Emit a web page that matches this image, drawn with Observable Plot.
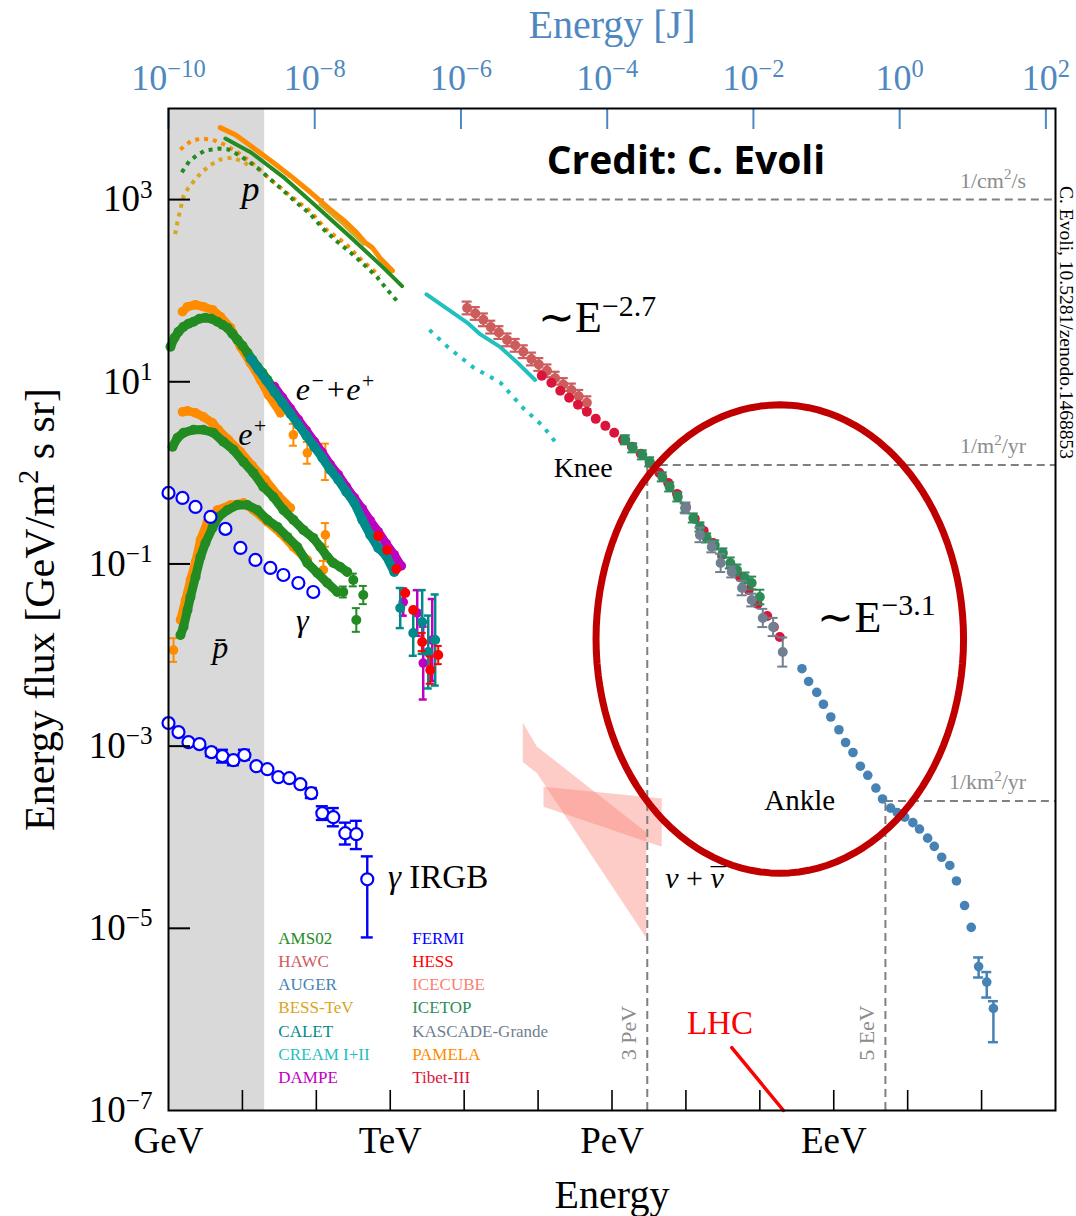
<!DOCTYPE html>
<html><head><meta charset="utf-8">
<script src="https://cdn.jsdelivr.net/npm/d3@7"></script>
<script src="https://cdn.jsdelivr.net/npm/@observablehq/plot@0.6"></script>
<style>body{margin:0;background:#fff}svg{display:block}</style>
</head><body><div id="chart"></div>
<script>
// All series values are [log10(E / GeV), log10(energy flux / (GeV m^-2 s^-1 sr^-1))]
// error series: [logE, logF, err] (symmetric) or [logE, logF, logLow, logHigh]

// ---- protons ----
const pPamelaLine = [[0.70,3.79],[0.91,3.71],[1.11,3.59],[1.38,3.43],[1.65,3.26],[1.92,3.08],[2.19,2.89],[2.39,2.76],[2.53,2.65],[2.66,2.53],[2.76,2.47],[2.86,2.36],[3.03,2.22]];
const pAms02Line = [[0.77,3.67],[0.93,3.60],[1.11,3.52],[1.55,3.25],[2.01,2.92],[2.46,2.59],[2.91,2.25],[3.16,2.05]];
const pBessLine = [[2.05,2.95],[2.36,2.73],[2.64,2.51]];
const pAms02Dotted = [[0.18,3.30],[0.28,3.42],[0.39,3.49],[0.50,3.54],[0.68,3.56],[0.81,3.55],[0.95,3.49],[1.08,3.42],[1.20,3.35],[1.34,3.25],[1.51,3.13],[1.74,2.96],[1.92,2.84],[2.09,2.68],[2.28,2.54],[2.46,2.42],[2.64,2.29],[2.82,2.15],[2.97,2.00],[3.11,1.87]];
const pPamelaDotted = [[0.16,3.55],[0.30,3.64],[0.43,3.67],[0.59,3.66],[0.77,3.60],[0.97,3.50],[1.18,3.37],[1.38,3.22],[1.65,3.04],[1.92,2.87],[2.15,2.66],[2.39,2.52],[2.62,2.33],[2.86,2.16]];
const pBessDotted = [[0.09,2.62],[0.12,2.75],[0.16,2.89],[0.20,3.03],[0.27,3.13],[0.36,3.22],[0.46,3.31],[0.57,3.38],[0.70,3.44],[0.86,3.46],[1.00,3.42],[1.12,3.36]];
const creamLine = [[3.49,1.96],[4.04,1.65],[4.22,1.52],[4.49,1.38],[4.72,1.21],[4.96,1.02]];
const creamDotted = [[3.53,1.57],[3.78,1.38],[4.12,1.16],[4.49,0.99],[4.80,0.71],[5.07,0.51],[5.26,0.31]];

// ---- all-particle ----
const hawc = [[4.04,1.81,0.07],[4.15,1.75,0.07],[4.26,1.68,0.07],[4.36,1.60,0.07],[4.47,1.54,0.07],[4.58,1.46,0.07],[4.69,1.40,0.07],[4.80,1.33,0.07],[4.91,1.25,0.07],[5.01,1.19,0.07],[5.12,1.12,0.07],[5.23,1.04,0.07],[5.34,0.97,0.07],[5.45,0.91,0.07],[5.55,0.84,0.07],[5.66,0.77,0.07]];
const tibet = [[5.05,1.066],[5.18,0.989],[5.30,0.901],[5.42,0.824],[5.54,0.747],[5.66,0.670],[5.78,0.593],[5.91,0.516],[6.03,0.440],[6.15,0.363],[6.27,0.286],[6.39,0.209],[6.51,0.110],[6.64,0.0],[6.76,-0.110],[6.88,-0.231],[7.00,-0.374],[7.12,-0.505],[7.24,-0.637],[7.37,-0.769],[7.49,-0.901],[7.61,-1.022],[7.73,-1.143],[7.85,-1.286],[7.97,-1.440],[8.10,-1.571],[8.19,-1.692],[8.27,-1.802]];
const icetop = [[6.18,0.363,0.05],[6.28,0.275,0.05],[6.41,0.198,0.05],[6.51,0.121,0.05],[6.68,-0.044,0.05],[6.78,-0.154,0.05],[6.89,-0.264,0.05],[6.99,-0.385,0.05],[7.10,-0.495,0.05],[7.19,-0.593,0.05],[7.28,-0.714,0.05],[7.39,-0.791,0.05],[7.50,-0.879,0.05],[7.60,-0.989,0.06],[7.69,-1.066,0.06],[7.80,-1.154,0.06],[7.89,-1.209,0.07],[8.00,-1.363,0.08]];
const kascade = [[7.00,-0.385,0.06],[7.19,-0.681,0.08],[7.35,-0.813,0.06],[7.47,-0.989,0.1],[7.62,-1.088,0.06],[7.76,-1.264,0.08],[7.89,-1.396,0.07],[8.04,-1.593,0.1],[8.18,-1.692,0.1],[8.31,-1.967,0.16]];
const auger = [[8.57,-2.15],[8.66,-2.29],[8.77,-2.41],[8.86,-2.54],[8.96,-2.68],[9.07,-2.82],[9.16,-2.96],[9.26,-3.07],[9.36,-3.22],[9.46,-3.32],[9.57,-3.46],[9.66,-3.58],[9.77,-3.68],[9.86,-3.73],[9.96,-3.78],[10.07,-3.84],[10.16,-3.91],[10.27,-4.01],[10.36,-4.10],[10.46,-4.22],[10.57,-4.31],[10.66,-4.48],[10.77,-4.75],[10.86,-4.99]];
const augerErr = [[10.96,-5.42,-5.54,-5.32],[11.07,-5.59,-5.76,-5.48],[11.16,-5.88,-6.25,-5.80]];

// ---- electrons + positrons ----
const eeAms02 = [[0.027,1.385],[0.081,1.484],[0.135,1.549],[0.203,1.604],[0.270,1.637],[0.338,1.659],[0.419,1.692],[0.500,1.703],[0.581,1.692],[0.662,1.659],[0.730,1.626],[0.797,1.593],[0.865,1.527],[0.932,1.462],[1.0,1.396],[1.068,1.319],[1.135,1.242],[1.203,1.165],[1.270,1.099],[1.338,1.022],[1.405,0.945],[1.473,0.868],[1.541,0.791],[1.608,0.714],[1.676,0.637],[1.743,0.560],[1.811,0.484],[1.878,0.407],[1.946,0.330],[2.014,0.253],[2.081,0.187],[2.149,0.110],[2.216,0.033],[2.284,-0.044],[2.351,-0.110],[2.419,-0.187]];
const eePamela = [[0.189,1.769],[0.257,1.824],[0.365,1.846],[0.473,1.824],[0.595,1.791],[0.703,1.714],[0.838,1.593],[0.973,1.385],[1.108,1.209],[1.243,1.022],[1.351,0.857],[1.514,0.659]];
const eePamelaErr = [[1.689,0.418,0.12],[1.878,0.220,0.12],[2.122,0.121,0.2]];
const eeCalet = [[1.108,1.255],[1.216,1.134],[1.324,1.013],[1.432,0.892],[1.541,0.771],[1.649,0.650],[1.757,0.529],[1.865,0.409],[1.973,0.288],[2.081,0.167],[2.189,0.035],[2.297,-0.075],[2.405,-0.207],[2.514,-0.328],[2.622,-0.516],[2.730,-0.681],[2.838,-0.824],[2.946,-0.912],[3.054,-1.088]];
const eeCaletErr = [[3.135,-1.484,0.22],[3.311,-1.758,0.25],[3.432,-1.637,0.35],[3.514,-1.967,0.4],[3.608,-1.835,0.5]];
const eeDampe = [[1.432,0.947],[1.541,0.826],[1.649,0.705],[1.757,0.584],[1.865,0.464],[1.973,0.343],[2.081,0.222],[2.189,0.090],[2.297,-0.020],[2.405,-0.152],[2.514,-0.273],[2.622,-0.394],[2.730,-0.525],[2.838,-0.646],[2.946,-0.778],[3.054,-0.899],[3.149,-1.022]];
const eeDampeErr = [[3.176,-1.418,0.15],[3.365,-1.538,0.25],[3.446,-2.088,0.4],[3.568,-1.835,0.45]];
const eeHess = [[2.838,-0.692],[2.959,-0.846],[3.081,-1.055],[3.203,-1.319],[3.311,-1.505]];
const eeHessErr = [[3.432,-1.857,0.1],[3.541,-2.165,0.15],[3.649,-2.0,0.1]];

// ---- positrons ----
const posAms02 = [[0.054,0.286],[0.122,0.385],[0.203,0.440],[0.338,0.473],[0.473,0.473],[0.608,0.440],[0.743,0.341],[0.878,0.253],[1.014,0.121],[1.149,0.0],[1.284,-0.154],[1.419,-0.264],[1.554,-0.407],[1.689,-0.516],[1.824,-0.626],[1.959,-0.714],[2.054,-0.813],[2.149,-0.923],[2.230,-0.989],[2.324,-1.033],[2.419,-1.088]];
const posAms02Err = [[2.5,-1.176,0.07],[2.635,-1.341,0.1]];
const posPamela = [[0.189,0.670],[0.257,0.681],[0.365,0.659],[0.473,0.615],[0.595,0.549],[0.676,0.473],[0.811,0.363],[0.973,0.231],[1.135,0.077],[1.311,-0.077],[1.486,-0.253],[1.649,-0.385]];
const posPamelaErr = [[2.122,-0.681,0.13]];

// ---- antiprotons ----
const pbarAms02 = [[0.162,-1.780],[0.203,-1.692],[0.257,-1.505],[0.297,-1.363],[0.365,-1.143],[0.432,-0.923],[0.5,-0.769],[0.595,-0.604],[0.676,-0.484],[0.797,-0.407],[0.932,-0.352],[1.068,-0.352],[1.203,-0.407],[1.338,-0.516],[1.473,-0.593],[1.608,-0.703],[1.743,-0.813],[1.878,-0.989],[2.014,-1.099],[2.149,-1.209],[2.284,-1.308]];
const pbarAms02Err = [[2.365,-1.308,0.06],[2.541,-1.615,0.13]];
const pbarPamela = [[0.162,-1.615],[0.230,-1.396],[0.297,-1.176],[0.365,-0.978],[0.432,-0.736],[0.527,-0.538],[0.662,-0.407],[0.838,-0.352],[1.014,-0.330],[1.149,-0.407],[1.338,-0.538],[1.514,-0.659],[1.689,-0.813],[1.878,-0.956]];
const pbarPamelaErr = [[0.068,-1.945,0.13],[2.095,-1.066,0.1]];

// ---- gamma rays ----
const gammaDiffuse = [[0.0,-0.220],[0.189,-0.275],[0.365,-0.374],[0.568,-0.484],[0.770,-0.615],[0.973,-0.824],[1.176,-0.956],[1.378,-1.044],[1.554,-1.121],[1.757,-1.209],[1.959,-1.308]];
const gammaIRGB = [[0.0,-2.747],[0.135,-2.846],[0.270,-2.956],[0.419,-2.978],[1.189,-3.220],[1.338,-3.253],[1.486,-3.341],[1.635,-3.352],[1.784,-3.418]];
const gammaIRGBErr = [[0.581,-3.066,-3.11,-3.02],[0.730,-3.110,-3.18,-3.04],[0.878,-3.154,-3.21,-3.10],[1.027,-3.099,-3.15,-3.04],[1.932,-3.516,-3.57,-3.46],[2.081,-3.736,-3.81,-3.66],[2.230,-3.780,-3.88,-3.68],[2.392,-3.956,-4.08,-3.84],[2.541,-3.967,-4.13,-3.82],[2.689,-4.462,-5.10,-4.21]];

// ---- neutrinos (IceCube bands): [logE, logLow, logHigh] ----
const nuBandSteep = [[4.80,-3.18,-2.75],[4.99,-3.30,-3.01],[6.47,-5.11,-3.95]];
const nuBandFlat = [[5.08,-3.67,-3.45],[6.68,-4.11,-3.58]];
// ---- LHC ----
const lhcLine = [[7.62,-6.31],[8.32,-7.0]];

// ---- reference levels ----
const fluxRefLevels = [1e3, 1.22, 2.5e-4];
const fluxRefStartE = [1e2, 3e6, 5e9];
const fluxRefLabels = ["1/cm^{2}/s", "1/m^{2}/yr", "1/km^{2}/yr"];
const energyMarks = [3e6, 5e9];
const energyMarkTopF = [1.22, 2.5e-4];
const energyMarkLabels = ["3 PeV", "5 EeV"];
const gcrShadeE = [1, 20];

// ---- axes ----
const bottomTickE = [1e1,1e2,1e3,1e4,1e5,1e6,1e7,1e8,1e9,1e10,1e11];
const bottomLabelE = [1, 1e3, 1e6, 1e9];
const bottomLabels = ["GeV", "TeV", "PeV", "EeV"];
const leftTickF = [1e3, 1e1, 1e-1, 1e-3, 1e-5, 1e-7];
const leftTickExp = ["3", "1", "−1", "−3", "−5", "−7"];
const topTickJ = [-10, -8, -6, -4, -2, 0, 2];           // log10(E / J)
const topAxisSpan = {J: [-10, 2], GeV: [0, 11.87]};       // calibration of the J axis against the GeV axis

// ---- legend ----
const legendNames = ["AMS02","HAWC","AUGER","BESS-TeV","CALET","CREAM I+II","DAMPE","FERMI","HESS","ICECUBE","ICETOP","KASCADE-Grande","PAMELA","Tibet-III"];
const col = {AMS02:"#228b22", HAWC:"#cd5c5c", AUGER:"#4682b4", BESS:"#daa520", CALET:"#008b8b", CREAM:"#1fc0c0", DAMPE:"#c000c0", FERMI:"#0000ff", HESS:"#ff0000", ICECUBE:"#fa8072", ICETOP:"#2e8b57", KASCADE:"#708090", PAMELA:"#ff8c00", TIBET:"#dc143c"};
const legendColors = [col.AMS02,col.HAWC,col.AUGER,col.BESS,col.CALET,col.CREAM,col.DAMPE,col.FERMI,col.HESS,col.ICECUBE,col.ICETOP,col.KASCADE,col.PAMELA,col.TIBET];

// ---- annotations: [text, logE, logF, fontSize]  (*{..} italic, ^{..} superscript) ----
const annotationsItalic = [
  ["p", 1.11, 3.11, 36],
  ["e^{−}+e^{+}", 2.26, 0.91, 32],
  ["e^{+}", 1.14, 0.42, 32],
  ["γ", 1.81, -1.62, 32],
  ["p̄", 0.70, -1.92, 32]
];
const annotationsPlain = [
  ["Knee", 5.61, 0.055, 28],
  ["Ankle", 8.54, -3.60, 29]
];
const annotationsLeft = [
  ["*{γ} IRGB", 2.97, -4.44, 33],
  ["∼E^{−2.7}", 5.0, 1.70, 44],
  ["∼E^{−3.1}", 8.78, -1.59, 44],
  ["*{ν} + *{ν}", 6.72, -4.45, 30]
];
const antiNeutrinoBar = ["¯", 6.72, -4.45, 30, 53];   // macron over the second ν (dx in px)
const ellipseAnnot = {cE: 8.27, cF: -1.824, rE: 2.486, rF: 2.571};

// ================== helpers ==================
const toPts = a => a.map(([le, lf]) => ({E: 10 ** le, F: 10 ** lf}));
const toErr = a => a.map(r => {
  const lo = r.length > 3 ? r[2] : r[1] - r[2];
  const hi = r.length > 3 ? r[3] : r[1] + r[2];
  return {E: 10 ** r[0], F: 10 ** r[1], lo: 10 ** lo, hi: 10 ** hi};
});
const lineMark = (a, c, w, dash) => Plot.line(toPts(a), {x: "E", y: "F", stroke: c, strokeWidth: w, strokeDasharray: dash, strokeLinecap: dash ? "butt" : "round", strokeLinejoin: "round"});
const dotMark = (a, c, r) => Plot.dot(toPts(a), {x: "E", y: "F", r, fill: c});
const beads = (a, c, r) => [Plot.line(toPts(a), {x: "E", y: "F", stroke: c, strokeWidth: 2 * r - 1, strokeLinecap: "round", strokeLinejoin: "round"}), dotMark(a, c, r)];
const openDots = (a, c, r) => Plot.dot(toPts(a), {x: "E", y: "F", r, fill: "white", stroke: c, strokeWidth: 2.2});
const errMarks = (a, c, r, cap = 4, w = 2, open = false) => {
  const d = toErr(a);
  return [
    Plot.ruleX(d, {x: "E", y1: "lo", y2: "hi", stroke: c, strokeWidth: w}),
    Plot.ruleY(d, {y: "lo", x1: "E", x2: "E", insetLeft: -cap, insetRight: -cap, stroke: c, strokeWidth: w}),
    Plot.ruleY(d, {y: "hi", x1: "E", x2: "E", insetLeft: -cap, insetRight: -cap, stroke: c, strokeWidth: w}),
    Plot.dot(d, {x: "E", y: "F", r, fill: open ? "white" : c, stroke: open ? c : "none", strokeWidth: open ? 2.2 : 0})
  ];
};
const band = (a, c) => Plot.areaY(a.map(([le, lo, hi]) => ({E: 10 ** le, lo: 10 ** lo, hi: 10 ** hi})), {x: "E", y1: "lo", y2: "hi", fill: c, fillOpacity: 0.4});

const jToGeV = lj => 10 ** (topAxisSpan.GeV[0] + (lj - topAxisSpan.J[0]) * (topAxisSpan.GeV[1] - topAxisSpan.GeV[0]) / (topAxisSpan.J[1] - topAxisSpan.J[0]));
const ellipsePts = d3.range(0, 361, 3).map(a => {
  const t = a * Math.PI / 180;
  return {E: 10 ** (ellipseAnnot.cE + ellipseAnnot.rE * Math.cos(t)), F: 10 ** (ellipseAnnot.cF + ellipseAnnot.rF * Math.sin(t))};
});

const W = 1076, H = 1216, mt = 108, mr = 21, mb = 106, ml = 168;
const innerW = W - ml - mr, innerH = H - mt - mb;
const serif = "'Liberation Serif', 'Times New Roman', serif";
const axisBlue = "#4f88c0";
const mid = {textAnchor: "middle", lineAnchor: "middle"};

const plot = Plot.plot({
  width: W, height: H,
  marginTop: mt, marginRight: mr, marginBottom: mb, marginLeft: ml,
  x: {type: "log", domain: [1, 1e12], axis: null},
  y: {type: "log", domain: [1e-7, 1e4], axis: null},
  style: {fontFamily: serif, background: "white", color: "black"},
  marks: [
    Plot.rect([gcrShadeE], {x1: d => d[0], x2: d => d[1], fill: "#d9d9d9"}),
    band(nuBandSteep, col.ICECUBE),
    band(nuBandFlat, col.ICECUBE),
    // reference lines
    Plot.ruleY(fluxRefLevels.map((f, i) => ({F: f, E1: fluxRefStartE[i], E2: 1e12})), {y: "F", x1: "E1", x2: "E2", stroke: "#808080", strokeWidth: 2, strokeDasharray: "8,5"}),
    Plot.ruleX(energyMarks.map((e, i) => ({E: e, F: energyMarkTopF[i]})), {x: "E", y1: 1e-7, y2: "F", stroke: "#808080", strokeWidth: 2, strokeDasharray: "8,5"}),
    Plot.text(fluxRefLabels.map((t, i) => ({t, F: fluxRefLevels[i]})), {x: 4e11, y: "F", text: "t", dy: -19, textAnchor: "end", fontSize: 22, fill: "#8c8c8c"}),
    Plot.text(energyMarkLabels.map((t, i) => ({t, E: energyMarks[i]})), {x: "E", y: 10 ** -6.15, text: "t", dx: -18, rotate: -90, fontSize: 22, fill: "#8c8c8c"}),
    // protons
    lineMark(pBessDotted, col.BESS, 4, "4,5"),
    lineMark(pPamelaDotted, col.PAMELA, 4, "4,5"),
    lineMark(pAms02Dotted, col.AMS02, 4, "4,5"),
    lineMark(pPamelaLine, col.PAMELA, 5),
    lineMark(pBessLine, col.BESS, 3),
    lineMark(pAms02Line, col.AMS02, 4),
    lineMark(creamDotted, col.CREAM, 4, "4,7"),
    lineMark(creamLine, col.CREAM, 4),
    // all particle
    ...errMarks(hawc, col.HAWC, 5, 5, 2.2),
    dotMark(tibet, col.TIBET, 5),
    ...errMarks(icetop, col.ICETOP, 5, 5, 2),
    ...errMarks(kascade, col.KASCADE, 5, 5, 2),
    dotMark(auger, col.AUGER, 4.8),
    ...errMarks(augerErr, col.AUGER, 4.8, 5, 2.5),
    // e+ e-
    ...beads(eePamela, col.PAMELA, 4.8),
    ...errMarks(eePamelaErr, col.PAMELA, 4.8, 4, 2),
    ...beads(eeAms02, col.AMS02, 5),
    ...beads(eeDampe, col.DAMPE, 4.8),
    ...errMarks(eeDampeErr, col.DAMPE, 4.8, 4, 2.5),
    ...beads(eeCalet, col.CALET, 5),
    ...errMarks(eeCaletErr, col.CALET, 5, 4, 2.5),
    dotMark(eeHess, col.HESS, 5),
    ...errMarks(eeHessErr, col.HESS, 5, 4, 2),
    // positrons
    ...beads(posPamela, col.PAMELA, 4.8),
    ...errMarks(posPamelaErr, col.PAMELA, 4.8, 4, 2),
    ...beads(posAms02, col.AMS02, 5),
    ...errMarks(posAms02Err, col.AMS02, 5, 4, 2),
    // antiprotons
    ...beads(pbarPamela, col.PAMELA, 4.8),
    ...errMarks(pbarPamelaErr, col.PAMELA, 4.8, 4, 2),
    ...beads(pbarAms02, col.AMS02, 5),
    ...errMarks(pbarAms02Err, col.AMS02, 5, 4, 2),
    // gamma
    openDots(gammaDiffuse, col.FERMI, 6),
    openDots(gammaIRGB, col.FERMI, 6),
    ...errMarks(gammaIRGBErr, col.FERMI, 6, 6, 2.4, true),
    // LHC
    lineMark(lhcLine, col.HESS, 3.5),
    Plot.text(["LHC"], {x: 10 ** 7.46, y: 10 ** -6.04, text: d => d, fontSize: 33, fill: "#ff0000"}),
    // ellipse
    Plot.line(ellipsePts, {x: "E", y: "F", stroke: "#c00000", strokeWidth: 7, curve: "linear-closed"}),
    // annotations
    Plot.text(annotationsItalic, {x: d => 10 ** d[1], y: d => 10 ** d[2], text: d => d[0], fontSize: d => d[3], fontStyle: "italic"}),
    Plot.text(annotationsPlain, {x: d => 10 ** d[1], y: d => 10 ** d[2], text: d => d[0], fontSize: d => d[3]}),
    Plot.text(annotationsLeft, {x: d => 10 ** d[1], y: d => 10 ** d[2], text: d => d[0], fontSize: d => d[3], textAnchor: "start"}),
    Plot.text([antiNeutrinoBar], {x: d => 10 ** d[1], y: d => 10 ** d[2], text: d => d[0], fontSize: d => d[3], dx: antiNeutrinoBar[4], textAnchor: "middle"}),
    Plot.text(["Credit: C. Evoli"], {x: 1e7, y: 10 ** 3.42, text: d => d, fontSize: 39, fontWeight: "bold", fontFamily: "'Open Sans', sans-serif"}),
    Plot.text(["C. Evoli, 10.5281/zenodo.1468853"], {frameAnchor: "right", y: 10 ** 1.65, text: d => d, dx: 11, rotate: 90, fontSize: 19.5, ...mid}),
    // legend
    Plot.text(legendNames.map((n, i) => ({n, c: legendColors[i], col: Math.floor(i / 7), row: i % 7})),
      {x: d => d.col === 0 ? 30.6 : 1980, y: d => 10 ** (-5.11 - 0.2546 * d.row), text: "n", fill: "c", textAnchor: "start", fontSize: 17}),
    // ticks
    Plot.ruleX(bottomTickE, {x: d => d, insetTop: innerH - 20, stroke: "black", strokeWidth: 1.6}),
    Plot.ruleY(leftTickF.slice(0, 5), {y: d => d, insetRight: innerW - 22, stroke: "black", strokeWidth: 2}),
    Plot.ruleX(topTickJ, {x: jToGeV, insetBottom: innerH - 21, stroke: axisBlue, strokeWidth: 2}),
    Plot.frame({stroke: "black", strokeWidth: 2}),
    // tick labels
    Plot.text(bottomLabelE.map((e, i) => ({e, t: bottomLabels[i]})), {x: "e", text: "t", frameAnchor: "bottom", dy: 31, fontSize: 37, ...mid}),
    Plot.text(leftTickF.map((f, i) => ({f, t: `10^{${leftTickExp[i]}}`})), {y: "f", text: "t", frameAnchor: "left", dx: -16, textAnchor: "end", lineAnchor: "middle", fontSize: 37}),
    Plot.text(topTickJ, {x: jToGeV, text: d => `10^{${d < 0 ? "−" + (-d) : d}}`, frameAnchor: "top", dy: -30, fontSize: 36, fill: axisBlue, ...mid}),
    // axis titles
    Plot.text(["Energy"], {text: d => d, frameAnchor: "bottom", dy: 85, fontSize: 40, ...mid}),
    Plot.text(["Energy [J]"], {text: d => d, frameAnchor: "top", dy: -83, fontSize: 40, fill: axisBlue, ...mid}),
    Plot.text(["Energy flux [GeV/m^{2} s sr]"], {text: d => d, frameAnchor: "left", dx: -128, rotate: -90, fontSize: 42, ...mid})
  ]
});

// render markup: ^{...} superscript, *{...} italic
d3.select(plot).selectAll("text").each(function () {
  const t = this.textContent;
  if (!/[\^*]\{/.test(t)) return;
  const parts = t.split(/(\^\{[^}]*\}|\*\{[^}]*\})/).filter(p => p.length);
  while (this.firstChild) this.removeChild(this.firstChild);
  const sel = d3.select(this);
  let raised = false;
  for (const p of parts) {
    let ts;
    if (p.startsWith("^{")) {
      sel.append("tspan").attr("dy", "-0.55em").attr("font-size", "0.68em").text(p.slice(2, -1));
      raised = true;
      continue;
    } else if (p.startsWith("*{")) {
      ts = sel.append("tspan").attr("font-style", "italic").text(p.slice(2, -1));
    } else {
      ts = sel.append("tspan").text(p);
    }
    if (raised) { ts.attr("dy", "0.374em"); raised = false; }
  }
});

document.getElementById("chart").appendChild(plot);
</script></body></html>
